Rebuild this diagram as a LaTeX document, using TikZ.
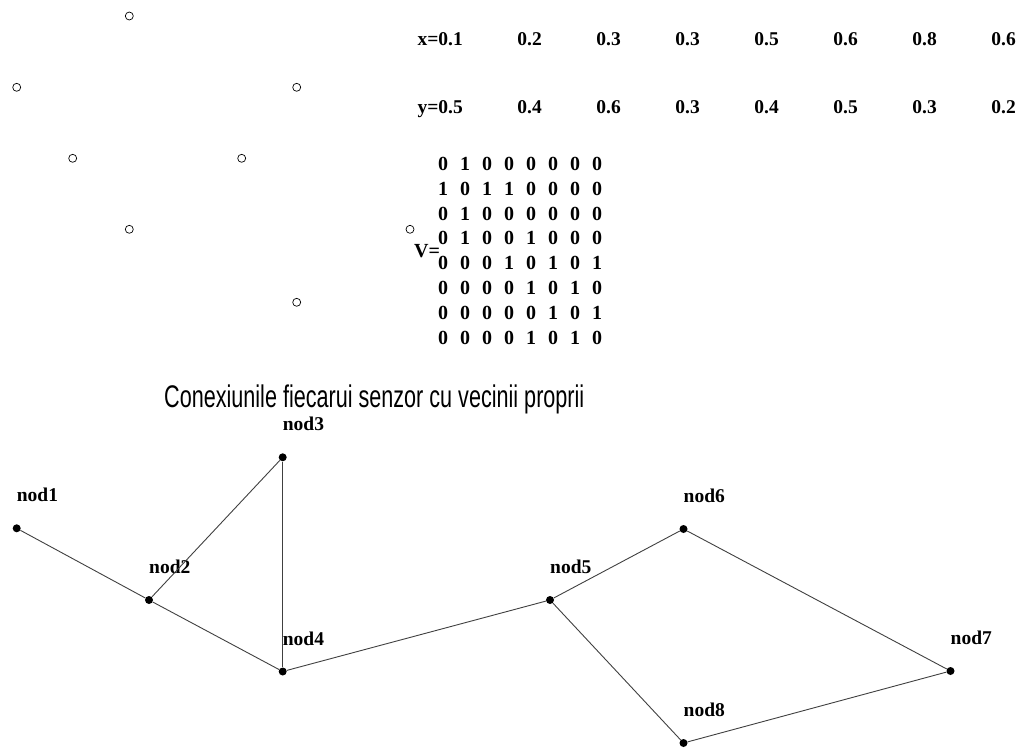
\documentclass[tikz,border=0pt]{standalone}
\usepackage{fontspec}
\usetikzlibrary{calc}
\setmainfont{Liberation Serif}
\newfontfamily\titlef[FakeStretch=0.69]{Liberation Sans}
\begin{document}
\begin{tikzpicture}[x=1pt,y=-1pt,
  sensor/.style={circle,draw,line width=0.7pt,inner sep=0pt,minimum size=8pt},
  val/.style={font=\fontsize{19.5}{20}\selectfont\bfseries,inner sep=0pt,anchor=base east},
  mdig/.style={font=\fontsize{20}{20}\selectfont\bfseries,inner sep=0pt,anchor=base},
  gnode/.style={circle,fill=black,inner sep=0pt,minimum size=8pt},
  glabel/.style={font=\fontsize{19.5}{20}\selectfont\bfseries,inner sep=0pt,anchor=base west},
  edge/.style={draw=black!75,line width=0.9pt}]
\useasboundingbox (0,0) rectangle (1018,749);
% sensor circles
\node[sensor] (s1) at (129.3,16) {};
\node[sensor] (s2) at (16.7,87.3) {};
\node[sensor] (s3) at (296.7,87.3) {};
\node[sensor] (s4) at (72.7,158.3) {};
\node[sensor] (s5) at (241.7,158.3) {};
\node[sensor] (s6) at (129.3,229.3) {};
\node[sensor] (s7) at (410,229.3) {};
\node[sensor] (s8) at (296.7,302.3) {};
% x and y values
\foreach \t [count=\i] in {x=0.1,0.2,0.3,0.3,0.5,0.6,0.8,0.6}{
  \node[val] (x\i) at ({463+79*(\i-1)},46) {\t};
}
\foreach \t [count=\i] in {y=0.5,0.4,0.6,0.3,0.4,0.5,0.3,0.2}{
  \node[val] (y\i) at ({463+79*(\i-1)},114) {\t};
}
% matrix
\node[font=\fontsize{20}{20}\selectfont\bfseries,inner sep=0pt,anchor=base west] (V) at (414,257) {V=};
\foreach \row [count=\r] in {
  {0,1,0,0,0,0,0,0},
  {1,0,1,1,0,0,0,0},
  {0,1,0,0,0,0,0,0},
  {0,1,0,0,1,0,0,0},
  {0,0,0,1,0,1,0,1},
  {0,0,0,0,1,0,1,0},
  {0,0,0,0,0,1,0,1},
  {0,0,0,0,1,0,1,0}}{
  \foreach \d [count=\c] in \row {
    \node[mdig] (m\r-\c) at ({443+22*(\c-1)},{170.5+24.8*(\r-1)}) {\d};
  }
}
% title
\node[font=\titlef\fontsize{31.3}{34}\selectfont,inner sep=0pt,anchor=base west] (title) at (164,407) {Conexiunile fiecarui senzor cu vecinii proprii};
% graph
\node[gnode] (n1) at (16.7,528.3) {};
\node[gnode] (n2) at (149,600) {};
\node[gnode] (n3) at (282.7,457.3) {};
\node[gnode] (n4) at (282.7,671.5) {};
\node[gnode] (n5) at (550,600) {};
\node[gnode] (n6) at (683.5,529) {};
\node[gnode] (n7) at (950.5,671) {};
\node[gnode] (n8) at (683.5,743) {};
\foreach \i in {1,...,8}{
  \node[glabel] (l\i) at ($(n\i)+(0,-26.5)$) {nod\i};
}
\draw[edge] (n1) -- (n2);
\draw[edge] (n2) -- (n3);
\draw[edge] (n2) -- (n4);
\draw[edge] (n3) -- (n4);
\draw[edge] (n4) -- (n5);
\draw[edge] (n5) -- (n6);
\draw[edge] (n5) -- (n8);
\draw[edge] (n6) -- (n7);
\draw[edge] (n7) -- (n8);
\end{tikzpicture}
\end{document}
